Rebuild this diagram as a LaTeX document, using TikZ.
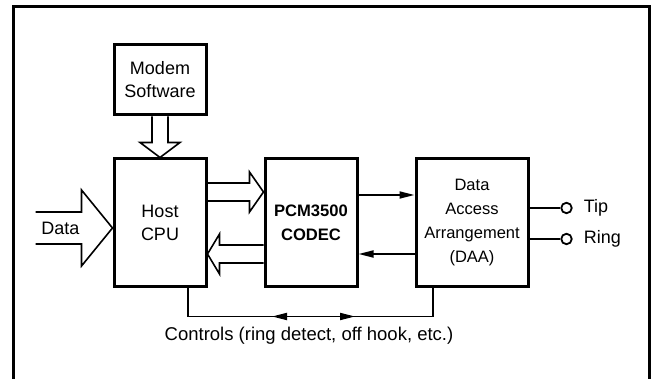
\documentclass[tikz,border=0pt]{standalone}
\usepackage{fontspec}
\setmainfont{Liberation Sans}
\usetikzlibrary{arrows.meta,calc}

\begin{document}
\begin{tikzpicture}[x=1pt, y=1pt,
    block/.style={draw, line width=3pt, inner sep=0pt, align=center,
      font=\fontsize{18}{23}\selectfont},
    hollow/.style={draw, line width=1.6pt, line join=miter},
    wire/.style={line width=1.8pt},
    tri/.style={wire, -{Triangle[length=15pt, width=7pt]}},
    term/.style={circle, draw, line width=1.8pt, minimum size=10.5pt, inner sep=0pt},
    lbl/.style={font=\fontsize{18}{21}\selectfont, inner sep=0pt}]
  \useasboundingbox (0,0) rectangle (655,379);
  % outer frame (bottom edge runs off the page)
  \draw[line width=3pt] (13,-10) -- (13,372) -- (649,372) -- (649,-10);
  % blocks
  \node[block, minimum width=92pt, minimum height=70pt] (modem) at (160,299) {Modem\\Software};
  \node[block, minimum width=92pt, minimum height=128pt] (host) at (160,156) {Host\\CPU};
  \node[block, minimum width=92pt, minimum height=128pt, font=\fontsize{16.6}{24}\selectfont\bfseries] (codec) at (311,156) {PCM3500\\CODEC};
  \node[block, minimum width=112pt, minimum height=128pt, font=\fontsize{16.5}{24}\selectfont] (daa) at (472,156) {Data\\Access\\Arrangement\\(DAA)};
  % hollow arrows
  \draw[hollow] ($(modem.south)+(-8,0)$) -- ++(0,-26) -- ++(-12,0) -- (host.north)
    -- ($(modem.south)+(20,-26)$) -- ++(-12,0) -- ($(modem.south)+(8,0)$);
  \draw[hollow] ($(host.east)+(0,40)$) -- ++(42,0) -- ++(0,11) -- ($(codec.west)+(0,31)$)
    -- ($(host.east)+(42,11)$) -- ++(0,11) -- ($(host.east)+(0,22)$);
  \draw[hollow] ($(codec.west)+(0,-22)$) -- ($(host.east)+(12,-22)$) -- ++(0,11) -- ($(host.east)+(0,-31)$)
    -- ($(host.east)+(12,-51)$) -- ++(0,11) -- ($(codec.west)+(0,-40)$);
  \draw[hollow] ($(host.west)+(-77,11)$) -- ++(46,0) -- ++(0,22) -- ($(host.west)+(0,-5)$)
    -- ($(host.west)+(-31,-43)$) -- ++(0,22) -- ++(-46,0);
  \node[lbl] (data) at ($(host.west)+(-52,-5)$) {Data};
  % codec <-> daa
  \draw[tri] ($(codec.east)+(0,28)$) -- ($(daa.west)+(0,28)$);
  \draw[tri] ($(daa.west)+(0,-31)$) -- ($(codec.east)+(0,-31)$);
  % controls loop
  \coordinate (cl) at ($(host.south)+(28,-28)$);
  \coordinate (cr) at ($(daa.south)+(-39,-28)$);
  \draw[wire] (host.south -| cl) -- (cl) -- (cr) -- (daa.south -| cr);
  \draw[tri] (codec.south |- cl) -- ++(-39,0);
  \draw[tri] (codec.south |- cl) -- ++(44,0);
  \node[lbl, font=\fontsize{18.5}{21}\selectfont, anchor=base] (ctrl) at (309,38) {Controls (ring detect, off hook, etc.)};
  % tip and ring
  \node[term] (tip) at ($(daa.east)+(37,15)$) {};
  \node[term] (ring) at ($(daa.east)+(37,-16)$) {};
  \draw[wire] (daa.east |- tip) -- (tip);
  \draw[wire] (daa.east |- ring) -- (ring);
  \node[lbl, anchor=west] (tiplbl) at ($(tip.east)+(11,0)$) {Tip};
  \node[lbl, anchor=west] (ringlbl) at ($(ring.east)+(11,0)$) {Ring};
\end{tikzpicture}
\end{document}
